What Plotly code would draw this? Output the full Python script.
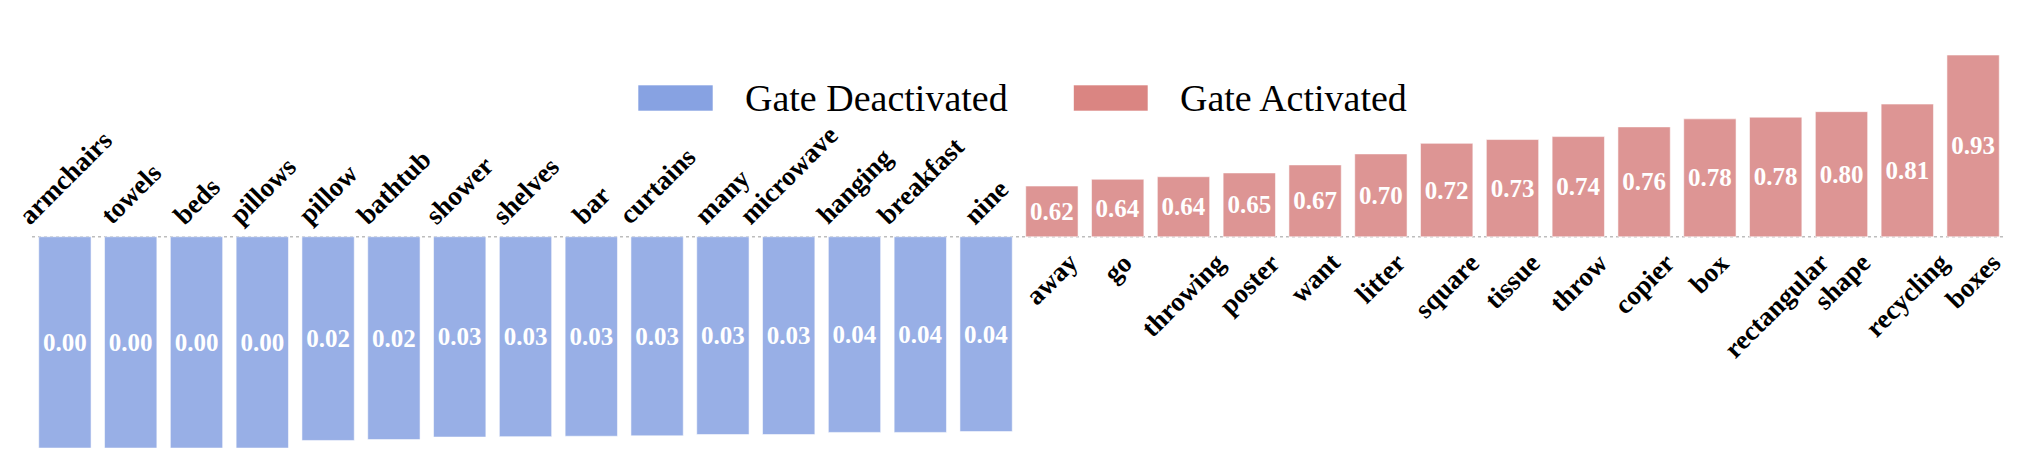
import plotly.graph_objects as go

# words and gate scores
deact_words = ['armchairs', 'towels', 'beds', 'pillows', 'pillow', 'bathtub', 'shower', 'shelves',
               'bar', 'curtains', 'many', 'microwave', 'hanging', 'breakfast', 'nine']
deact_vals = [0.000, 0.000, 0.000, 0.000, 0.018, 0.020, 0.026, 0.027,
              0.028, 0.029, 0.032, 0.032, 0.037, 0.037, 0.039]

act_words = ['away', 'go', 'throwing', 'poster', 'want', 'litter', 'square', 'tissue',
             'throw', 'copier', 'box', 'rectangular', 'shape', 'recycling', 'boxes']
act_vals = [0.620, 0.636, 0.642, 0.651, 0.670, 0.696, 0.721, 0.730,
            0.737, 0.760, 0.779, 0.783, 0.796, 0.814, 0.930]

threshold = 0.5

SERIF = 'Times New Roman, Liberation Serif, serif'
BLUE_BAR, BLUE_KEY = '#98AFE6', '#87A2E2'
RED_BAR, RED_KEY = '#DD9594', '#DA8582'

# the page body adds an 8px margin, so the figure is made that much smaller
PAGE_OFF = 8
FIG_W, FIG_H = 2010, 448
ML, MR, MT, MB = 24, 12, 9, 0
PLOT_W, PLOT_H = FIG_W - ML - MR, FIG_H - MT - MB


def paper_x(px):
    return (px - PAGE_OFF - ML) / PLOT_W


def paper_y(py):
    return 1 - (py - PAGE_OFF - MT) / PLOT_H


fig = go.Figure()

for words, vals, color in [(deact_words, deact_vals, BLUE_BAR), (act_words, act_vals, RED_BAR)]:
    fig.add_trace(go.Bar(
        x=words,
        y=[v - threshold for v in vals],
        text=[f'{v:.2f}' for v in vals],
        textposition='inside',
        insidetextanchor='middle',
        textangle=0,
        constraintext='none',
        textfont=dict(family=SERIF, size=25, color='white', weight='bold'),
        marker=dict(color=color, line=dict(color='rgba(255,255,255,0.55)', width=1)),
        showlegend=False,
    ))

# word labels: above the line for deactivated, below for activated
for w in deact_words:
    fig.add_annotation(x=w, y=0, text=f'<b>{w}</b>', showarrow=False, textangle=-45,
                       xanchor='center', yanchor='bottom', yshift=4,
                       font=dict(family=SERIF, size=27, color='black'))
for w in act_words:
    fig.add_annotation(x=w, y=0, text=f'<b>{w}</b>', showarrow=False, textangle=-45,
                       xanchor='center', yanchor='top', yshift=-8,
                       font=dict(family=SERIF, size=27, color='black'))

# dotted threshold line
fig.add_shape(type='line', xref='paper', x0=0, x1=1, yref='y', y0=0, y1=0,
              line=dict(color='#BDBDBD', width=1.5, dash='dot'), layer='below')

# hand-made legend with wide swatches
for x0, x1, tx, color, label in [(638, 713, 743, BLUE_KEY, 'Gate Deactivated'),
                                 (1073.5, 1148, 1178, RED_KEY, 'Gate Activated')]:
    fig.add_shape(type='rect', xref='paper', yref='paper',
                  x0=paper_x(x0), x1=paper_x(x1), y0=paper_y(111), y1=paper_y(85),
                  fillcolor=color, line=dict(color='rgba(255,255,255,0.6)', width=1))
    fig.add_annotation(xref='paper', yref='paper', x=paper_x(tx), y=paper_y(98.5), text=label,
                       showarrow=False, xanchor='left', yanchor='middle',
                       font=dict(family=SERIF, size=38, color='black'))

fig.update_layout(
    width=FIG_W, height=FIG_H,
    margin=dict(l=ML, r=MR, t=MT, b=MB),
    plot_bgcolor='white', paper_bgcolor='white',
    bargap=0.205,
    xaxis=dict(visible=False, range=[-0.5, 29.5]),
    yaxis=dict(visible=False, range=[0.52 - PLOT_H / 422.6, 0.52]),
)

fig.write_html('out.html')
